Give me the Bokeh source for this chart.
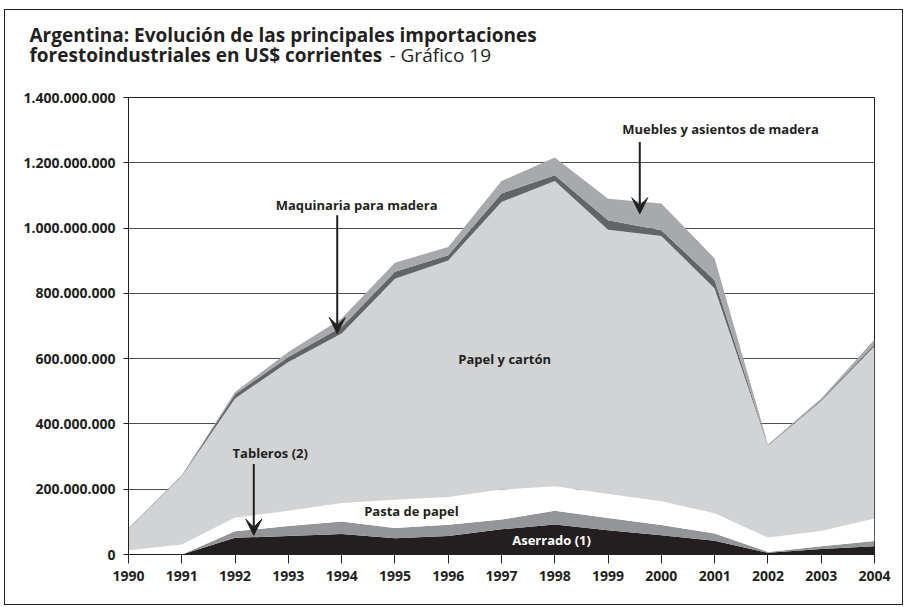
from bokeh.plotting import figure
from bokeh.layouts import column
from bokeh.models import ColumnDataSource, FixedTicker, Label, Arrow, VeeHead, Range1d
from bokeh.core.properties import value
from bokeh.embed import file_html
from bokeh.resources import INLINE

# ---------------- data (US$ millions) ----------------
years = [1990, 1991, 1992, 1993, 1994, 1995, 1996, 1997, 1998, 1999, 2000, 2001, 2002, 2003, 2004]
aserrado    = [0, 0, 51, 57, 63, 50, 57, 77, 92, 74, 59, 42, 5, 17, 25]
tableros    = [0, 0, 20, 30, 38, 31, 34, 30, 42, 38, 31, 22, 3, 8, 16]
pasta_papel = [13, 31, 42, 47, 57, 87, 85, 92, 75, 73, 73, 62, 44, 47, 69]
papel_carton = [65, 209, 365, 456, 519, 677, 725, 881, 935, 810, 813, 689, 281, 398, 528]
maquinaria  = [1, 1, 13, 15, 20, 21, 16, 26, 18, 29, 17, 25, 2, 3, 5]
muebles     = [2, 2, 7, 15, 26, 28, 25, 38, 54, 66, 82, 67, 2, 5, 16]

series_names = ["Aserrado (1)", "Tableros (2)", "Pasta de papel", "Papel y cartón",
                "Maquinaria para madera", "Muebles y asientos de madera"]
series_colors = ["#231f20", "#939598", "#ffffff", "#d1d3d4", "#636466", "#a7a9ac"]

y_ticks = [0, 200e6, 400e6, 600e6, 800e6, 1000e6, 1200e6, 1400e6]
y_tick_labels = ["0", "200.000.000", "400.000.000", "600.000.000", "800.000.000",
                 "1.000.000.000", "1.200.000.000", "1.400.000.000"]
x_ticks = years
x_tick_labels = [str(y) for y in years]

title_line1 = "Argentina: Evolución de las principales importaciones"
title_line2_bold = "forestoindustriales en US$ corrientes"
title_line2_normal = "- Gráfico 19"

DARK = "#231f20"
FONT = "Open Sans"
ML, MT = 4, 9          # outer frame offset on the page
LEFT, RIGHT = 123, 28
W = LEFT + 746 + RIGHT
TITLE_H = 60

# ---------------- title strip ----------------
tp = figure(width=W, height=TITLE_H, x_range=Range1d(0, W), y_range=Range1d(TITLE_H, 0),
            x_axis_type=None, y_axis_type=None, min_border=0,
            output_backend="svg", toolbar_location=None)
tp.frame_align = False
tp.outline_line_color = None
tp.grid.grid_line_color = None
tp.text(x=[24, 24], y=[24, 44], text=[title_line1, title_line2_bold],
        text_font=value(FONT), text_font_style="bold", text_font_size="19px",
        text_color=DARK, text_align="left", text_baseline="middle")
tp.text(x=[384], y=[44], text=[title_line2_normal],
        text_font=value(FONT), text_font_style="normal", text_font_size="19px",
        text_color=DARK, text_align="left", text_baseline="middle")

# ---------------- main chart ----------------
keys = ["s0", "s1", "s2", "s3", "s4", "s5"]
raw = [aserrado, tableros, pasta_papel, papel_carton, maquinaria, muebles]
data = {"year": years}
for k, arr in zip(keys, raw):
    data[k] = [v * 1e6 for v in arr]
source = ColumnDataSource(data)

p = figure(frame_width=746, frame_height=457,
           min_border_left=LEFT, min_border_right=RIGHT,
           min_border_top=96 - MT - TITLE_H, min_border_bottom=50,
           x_range=Range1d(1990, 2004), y_range=Range1d(0, 1.4e9),
           output_backend="svg", toolbar_location=None)
p.frame_align = False

p.varea_stack(stackers=keys, x="year", color=series_colors, source=source)

p.outline_line_color = DARK
p.outline_line_width = 1
p.background_fill_color = "white"
p.border_fill_color = "white"

p.xgrid.grid_line_color = None
p.ygrid.ticker = FixedTicker(ticks=y_ticks)
p.ygrid.grid_line_color = "#4d4d4f"
p.ygrid.grid_line_width = 1

p.yaxis.ticker = FixedTicker(ticks=y_ticks)
p.yaxis.major_label_overrides = {int(t): l for t, l in zip(y_ticks, y_tick_labels)}
p.xaxis.ticker = FixedTicker(ticks=x_ticks)
p.xaxis.major_label_overrides = {t: l for t, l in zip(x_ticks, x_tick_labels)}

for ax in (p.xaxis, p.yaxis):
    ax.axis_line_color = DARK
    ax.axis_line_width = 1
    ax.major_tick_line_color = DARK
    ax.major_tick_line_width = 1
    ax.minor_tick_line_color = None
    ax.major_tick_in = 0
    ax.major_label_text_font = FONT
    ax.major_label_text_font_style = "bold"
    ax.major_label_text_font_size = "14px"
    ax.major_label_text_color = DARK
p.yaxis.major_tick_out = 5
p.yaxis.major_label_standoff = 8
p.xaxis.major_tick_out = 9
p.xaxis.major_label_standoff = 7

def lbl(x, y, text, color=DARK):
    p.add_layout(Label(x=x, y=y, text=text, text_font=FONT, text_font_size="13px",
                       text_font_style="bold", text_color=color, text_align="center",
                       text_baseline="middle"))

lbl(1994.28, 1070e6, "Maquinaria para madera")
lbl(2001.11, 1302e6, "Muebles y asientos de madera")
lbl(1992.66, 311e6, "Tableros (2)")
lbl(1997.06, 600e6, "Papel y cartón")
lbl(1995.31, 133e6, "Pasta de papel")
lbl(1997.94, 44e6, "Aserrado (1)", color="white")

def arrow(x, y0, y1):
    p.add_layout(Arrow(end=VeeHead(size=16, fill_color=DARK, line_color=DARK, line_width=1),
                       x_start=x, y_start=y0, x_end=x, y_end=y1,
                       line_color=DARK, line_width=2))

arrow(1993.917, 1039e6, 677e6)
arrow(1999.595, 1264e6, 1044e6)
arrow(1992.351, 277e6, 59e6)

layout = column(tp, p, spacing=0,
                styles={"border": "1px solid #231f20", "background": "white",
                        "margin-left": f"{ML}px", "margin-top": f"{MT}px"})

open("out.html", "w").write(file_html(layout, INLINE))
